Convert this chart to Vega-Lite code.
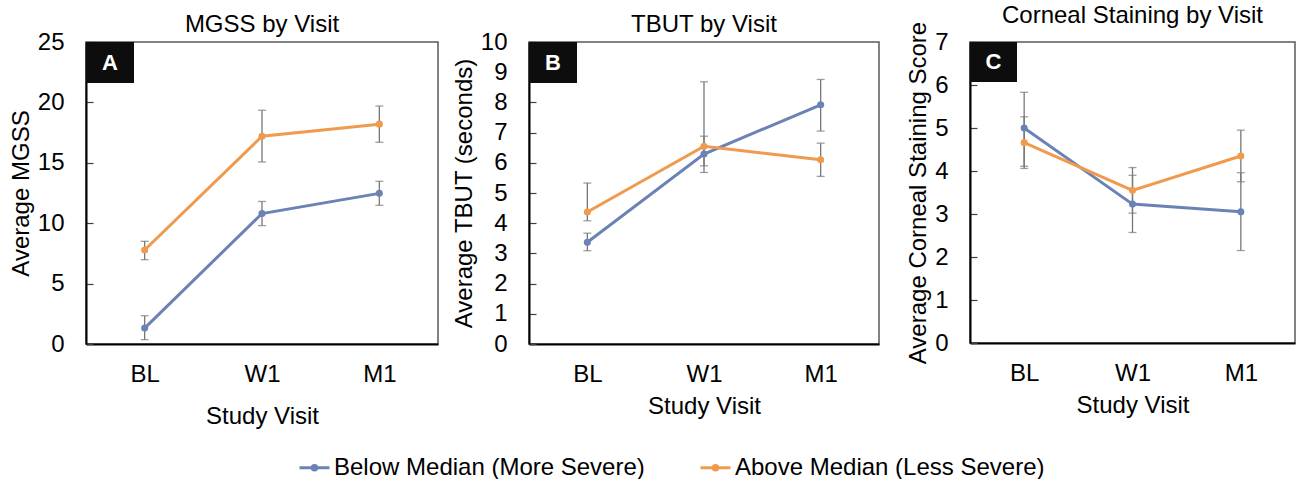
{
  "$schema": "https://vega.github.io/schema/vega-lite/v6.json",
  "autosize": {"type": "pad"},
  "padding": {"left": 8, "top": 3, "right": 0, "bottom": 0},
  "background": "white",
  "datasets": {
    "vals": [
      {"panel": "MGSS", "visit": "BL", "group": "Below Median (More Severe)", "mean": 1.32, "lo": 0.36, "hi": 2.34},
      {"panel": "MGSS", "visit": "W1", "group": "Below Median (More Severe)", "mean": 10.8, "lo": 9.8, "hi": 11.8},
      {"panel": "MGSS", "visit": "M1", "group": "Below Median (More Severe)", "mean": 12.47, "lo": 11.48, "hi": 13.47},
      {"panel": "MGSS", "visit": "BL", "group": "Above Median (Less Severe)", "mean": 7.78, "lo": 6.98, "hi": 8.5},
      {"panel": "MGSS", "visit": "W1", "group": "Above Median (Less Severe)", "mean": 17.2, "lo": 15.07, "hi": 19.35},
      {"panel": "MGSS", "visit": "M1", "group": "Above Median (Less Severe)", "mean": 18.2, "lo": 16.7, "hi": 19.7},
      {"panel": "TBUT", "visit": "BL", "group": "Below Median (More Severe)", "mean": 3.37, "lo": 3.09, "hi": 3.67},
      {"panel": "TBUT", "visit": "W1", "group": "Below Median (More Severe)", "mean": 6.29, "lo": 5.68, "hi": 6.88},
      {"panel": "TBUT", "visit": "M1", "group": "Below Median (More Severe)", "mean": 7.92, "lo": 7.05, "hi": 8.76},
      {"panel": "TBUT", "visit": "BL", "group": "Above Median (Less Severe)", "mean": 4.37, "lo": 4.08, "hi": 5.33},
      {"panel": "TBUT", "visit": "W1", "group": "Above Median (Less Severe)", "mean": 6.55, "lo": 5.9, "hi": 8.68},
      {"panel": "TBUT", "visit": "M1", "group": "Above Median (Less Severe)", "mean": 6.1, "lo": 5.55, "hi": 6.65},
      {"panel": "Staining", "visit": "BL", "group": "Below Median (More Severe)", "mean": 5.0, "lo": 4.11, "hi": 5.83},
      {"panel": "Staining", "visit": "W1", "group": "Below Median (More Severe)", "mean": 3.23, "lo": 2.57, "hi": 3.9},
      {"panel": "Staining", "visit": "M1", "group": "Below Median (More Severe)", "mean": 3.05, "lo": 2.15, "hi": 3.96},
      {"panel": "Staining", "visit": "BL", "group": "Above Median (Less Severe)", "mean": 4.66, "lo": 4.06, "hi": 5.26},
      {"panel": "Staining", "visit": "W1", "group": "Above Median (Less Severe)", "mean": 3.55, "lo": 3.02, "hi": 4.08},
      {"panel": "Staining", "visit": "M1", "group": "Above Median (Less Severe)", "mean": 4.35, "lo": 3.75, "hi": 4.95}
    ]
  },
  "config": {
    "font": "Liberation Sans",
    "view": {"stroke": "#595959", "strokeWidth": 1.5},
    "axis": {"labelFont": "Liberation Sans", "labelFontSize": 24, "labelColor": "black", "titleFont": "Liberation Sans", "titleFontSize": 24, "titleFontWeight": "normal", "titleColor": "black", "grid": false, "domainColor": "black", "domainWidth": 2, "labelOverlap": false},
    "axisY": {"tickSize": -7, "tickColor": "#404040", "tickWidth": 1.2, "labelPadding": 29, "titlePadding": 4, "labelOverlap": false},
    "axisX": {"ticks": false, "labelPadding": 18, "labelAngle": 0, "titlePadding": 14},
    "title": {"font": "Liberation Sans", "fontSize": 24, "fontWeight": "normal", "color": "black", "offset": -7, "anchor": "middle"},
    "legend": {"orient": "none", "direction": "horizontal", "legendX": 212, "legendY": 409, "title": null, "padding": 0,
      "labelFont": "Liberation Sans", "labelFontSize": 24, "labelColor": "black", "labelLimit": 0, "labelOffset": 3, "columnPadding": 49,
      "symbolType": "M-1,0H1M-0.15,0A0.15,0.15 0 1,0 0.15,0A0.15,0.15 0 1,0 -0.15,0", "symbolSize": 900, "symbolStrokeWidth": 3}
  },
  "bounds": "flush",
  "spacing": 91,
  "resolve": {"scale": {"color": "shared"}},
  "hconcat": [
    {
      "width": 352, "height": 302,
      "title": {"text": "MGSS by Visit"},
      "data": {"name": "vals"},
      "transform": [{"filter": "datum.panel === 'MGSS'"}],
      "encoding": {
        "x": {"field": "visit", "type": "ordinal", "sort": ["BL", "W1", "M1"], "scale": {"type": "point", "padding": 0.5}, "axis": {"title": "Study Visit", "titlePadding": 18}}
      },
      "layer": [
        {"mark": {"type": "rule", "color": "#777777", "strokeWidth": 1.3},
         "encoding": {
           "y": {"field": "lo", "type": "quantitative", "scale": {"domain": [0, 25], "nice": false}, "axis": {"title": "Average MGSS", "values": [0, 5, 10, 15, 20, 25], "labelOverlap": false}},
           "y2": {"field": "hi"}}},
        {"mark": {"type": "tick", "orient": "horizontal", "size": 8, "thickness": 1.3, "color": "#777777"},
         "encoding": {
           "y": {"field": "lo", "type": "quantitative", "scale": {"domain": [0, 25], "nice": false}, "axis": {"title": "Average MGSS", "values": [0, 5, 10, 15, 20, 25], "labelOverlap": false}}}},
        {"mark": {"type": "tick", "orient": "horizontal", "size": 8, "thickness": 1.3, "color": "#777777"},
         "encoding": {
           "y": {"field": "hi", "type": "quantitative", "scale": {"domain": [0, 25], "nice": false}, "axis": {"title": "Average MGSS", "values": [0, 5, 10, 15, 20, 25], "labelOverlap": false}}}},
        {"mark": {"type": "line", "strokeWidth": 3, "point": {"filled": true, "size": 50}},
         "encoding": {
           "y": {"field": "mean", "type": "quantitative", "scale": {"domain": [0, 25], "nice": false}, "axis": {"title": "Average MGSS", "values": [0, 5, 10, 15, 20, 25], "labelOverlap": false}},
           "color": {"field": "group", "type": "nominal", "scale": {"domain": ["Below Median (More Severe)", "Above Median (Less Severe)"], "range": ["#6A82B5", "#EF9A4D"]},
             "legend": {"encode": {"symbols": {"update": {"fill": {"scale": "color", "field": "value"}, "stroke": {"scale": "color", "field": "value"}, "strokeWidth": {"value": 3}, "opacity": {"value": 1}}}}}}}},
        {"data": {"values": [{"label": "A"}]},
         "mark": {"type": "rect", "color": "#0d0d0d"},
         "encoding": {"x": {"value": 0}, "x2": {"value": 48}, "y": {"value": 0}, "y2": {"value": 41}}},
        {"data": {"values": [{"label": "A"}]},
         "mark": {"type": "text", "color": "white", "fontWeight": "bold", "fontSize": 22, "font": "Liberation Sans"},
         "encoding": {"text": {"field": "label"}, "x": {"value": 24}, "y": {"value": 21}}}
      ]
    },
    {
      "width": 350, "height": 302,
      "title": {"text": "TBUT by Visit"},
      "data": {"name": "vals"},
      "transform": [{"filter": "datum.panel === 'TBUT'"}],
      "encoding": {
        "x": {"field": "visit", "type": "ordinal", "sort": ["BL", "W1", "M1"], "scale": {"type": "point", "padding": 0.5}, "axis": {"title": "Study Visit", "titlePadding": 8}}
      },
      "layer": [
        {"mark": {"type": "rule", "color": "#777777", "strokeWidth": 1.3},
         "encoding": {
           "y": {"field": "lo", "type": "quantitative", "scale": {"domain": [0, 10], "nice": false}, "axis": {"title": "Average TBUT (seconds)", "values": [0, 1, 2, 3, 4, 5, 6, 7, 8, 9, 10], "labelOverlap": false}},
           "y2": {"field": "hi"}}},
        {"mark": {"type": "tick", "orient": "horizontal", "size": 8, "thickness": 1.3, "color": "#777777"},
         "encoding": {
           "y": {"field": "lo", "type": "quantitative", "scale": {"domain": [0, 10], "nice": false}, "axis": {"title": "Average TBUT (seconds)", "values": [0, 1, 2, 3, 4, 5, 6, 7, 8, 9, 10], "labelOverlap": false}}}},
        {"mark": {"type": "tick", "orient": "horizontal", "size": 8, "thickness": 1.3, "color": "#777777"},
         "encoding": {
           "y": {"field": "hi", "type": "quantitative", "scale": {"domain": [0, 10], "nice": false}, "axis": {"title": "Average TBUT (seconds)", "values": [0, 1, 2, 3, 4, 5, 6, 7, 8, 9, 10], "labelOverlap": false}}}},
        {"mark": {"type": "line", "strokeWidth": 3, "point": {"filled": true, "size": 50}},
         "encoding": {
           "y": {"field": "mean", "type": "quantitative", "scale": {"domain": [0, 10], "nice": false}, "axis": {"title": "Average TBUT (seconds)", "values": [0, 1, 2, 3, 4, 5, 6, 7, 8, 9, 10], "labelOverlap": false}},
           "color": {"field": "group", "type": "nominal", "scale": {"domain": ["Below Median (More Severe)", "Above Median (Less Severe)"], "range": ["#6A82B5", "#EF9A4D"]},
             "legend": {"encode": {"symbols": {"update": {"fill": {"scale": "color", "field": "value"}, "stroke": {"scale": "color", "field": "value"}, "strokeWidth": {"value": 3}, "opacity": {"value": 1}}}}}}}},
        {"data": {"values": [{"label": "B"}]},
         "mark": {"type": "rect", "color": "#0d0d0d"},
         "encoding": {"x": {"value": 0}, "x2": {"value": 48}, "y": {"value": 0}, "y2": {"value": 41}}},
        {"data": {"values": [{"label": "B"}]},
         "mark": {"type": "text", "color": "white", "fontWeight": "bold", "fontSize": 22, "font": "Liberation Sans"},
         "encoding": {"text": {"field": "label"}, "x": {"value": 24}, "y": {"value": 21}}}
      ]
    },
    {
      "width": 325, "height": 301,
      "title": {"text": "Corneal Staining by Visit"},
      "data": {"name": "vals"},
      "transform": [{"filter": "datum.panel === 'Staining'"}],
      "encoding": {
        "x": {"field": "visit", "type": "ordinal", "sort": ["BL", "W1", "M1"], "scale": {"type": "point", "padding": 0.5}, "axis": {"title": "Study Visit", "titlePadding": 8}}
      },
      "layer": [
        {"mark": {"type": "rule", "color": "#777777", "strokeWidth": 1.3},
         "encoding": {
           "y": {"field": "lo", "type": "quantitative", "scale": {"domain": [0, 7], "nice": false}, "axis": {"title": "Average Corneal Staining Score", "values": [0, 1, 2, 3, 4, 5, 6, 7], "labelOverlap": false}},
           "y2": {"field": "hi"}}},
        {"mark": {"type": "tick", "orient": "horizontal", "size": 8, "thickness": 1.3, "color": "#777777"},
         "encoding": {
           "y": {"field": "lo", "type": "quantitative", "scale": {"domain": [0, 7], "nice": false}, "axis": {"title": "Average Corneal Staining Score", "values": [0, 1, 2, 3, 4, 5, 6, 7], "labelOverlap": false}}}},
        {"mark": {"type": "tick", "orient": "horizontal", "size": 8, "thickness": 1.3, "color": "#777777"},
         "encoding": {
           "y": {"field": "hi", "type": "quantitative", "scale": {"domain": [0, 7], "nice": false}, "axis": {"title": "Average Corneal Staining Score", "values": [0, 1, 2, 3, 4, 5, 6, 7], "labelOverlap": false}}}},
        {"mark": {"type": "line", "strokeWidth": 3, "point": {"filled": true, "size": 50}},
         "encoding": {
           "y": {"field": "mean", "type": "quantitative", "scale": {"domain": [0, 7], "nice": false}, "axis": {"title": "Average Corneal Staining Score", "values": [0, 1, 2, 3, 4, 5, 6, 7], "labelOverlap": false}},
           "color": {"field": "group", "type": "nominal", "scale": {"domain": ["Below Median (More Severe)", "Above Median (Less Severe)"], "range": ["#6A82B5", "#EF9A4D"]},
             "legend": {"encode": {"symbols": {"update": {"fill": {"scale": "color", "field": "value"}, "stroke": {"scale": "color", "field": "value"}, "strokeWidth": {"value": 3}, "opacity": {"value": 1}}}}}}}},
        {"data": {"values": [{"label": "C"}]},
         "mark": {"type": "rect", "color": "#0d0d0d"},
         "encoding": {"x": {"value": 0}, "x2": {"value": 47}, "y": {"value": 0}, "y2": {"value": 40}}},
        {"data": {"values": [{"label": "C"}]},
         "mark": {"type": "text", "color": "white", "fontWeight": "bold", "fontSize": 22, "font": "Liberation Sans"},
         "encoding": {"text": {"field": "label"}, "x": {"value": 23.5}, "y": {"value": 20}}}
      ]
    }
  ]
}
